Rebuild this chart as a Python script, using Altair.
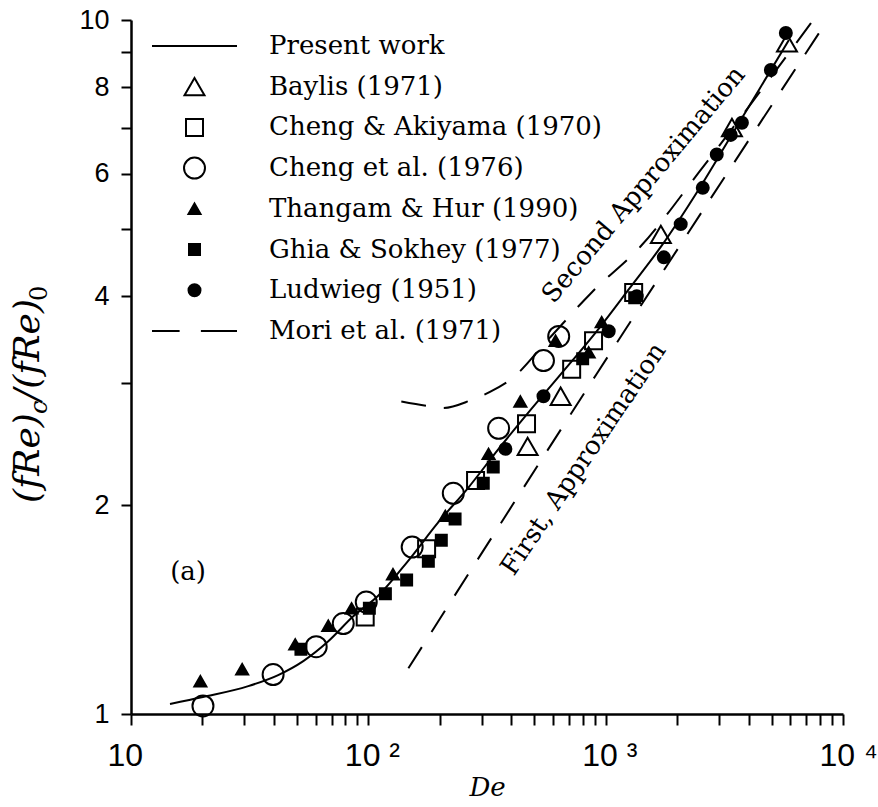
import altair as alt
import pandas as pd

# ---------------- data ----------------
series_order = ["Present work", "Baylis (1971)", "Cheng & Akiyama (1970)", "Cheng et al. (1976)",
                "Thangam & Hur (1990)", "Ghia & Sokhey (1977)", "Ludwieg (1951)", "Mori et al. (1971)"]

present_De = [14.6, 20.1, 31.2, 41.7, 53.2, 67.8, 86.4, 110, 147.5, 197, 264, 354, 473, 633, 934,
              1250, 1722, 2466, 3302, 4422, 5916]
present_f = [1.034, 1.058, 1.097, 1.138, 1.192, 1.273, 1.383, 1.48, 1.664, 1.888, 2.12, 2.41, 2.72,
             3.06, 3.59, 4.09, 4.73, 5.70, 6.72, 7.93, 9.36]

baylis_De = [469, 646, 1708, 3404, 5808]
baylis_f = [2.43, 2.87, 4.91, 7.0, 9.27]

akiyama_De = [97, 176, 283, 464, 719, 889, 1312]
akiyama_f = [1.38, 1.73, 2.17, 2.62, 3.14, 3.45, 4.05]

cheng_De = [20.1, 39.7, 60.3, 78.4, 98, 153, 228, 354, 547, 634]
cheng_f = [1.027, 1.14, 1.25, 1.35, 1.45, 1.74, 2.08, 2.58, 3.23, 3.5]

thangam_De = [19.6, 29.4, 49.2, 67.8, 85, 127, 211, 321, 437, 615, 848, 962]
thangam_f = [1.115, 1.16, 1.26, 1.34, 1.42, 1.59, 1.93, 2.37, 2.82, 3.45, 3.32, 3.67]

ghia_De = [52, 101, 118, 145, 179, 203, 232, 305, 336, 800, 1325]
ghia_f = [1.24, 1.42, 1.49, 1.56, 1.66, 1.78, 1.91, 2.15, 2.27, 3.25, 3.98]

ludwieg_De = [378, 547, 1030, 1352, 1758, 2071, 2565, 2938, 3366, 3750, 4966, 5743]
ludwieg_f = [2.41, 2.87, 3.56, 4.0, 4.55, 5.08, 5.73, 6.40, 6.83, 7.11, 8.47, 9.58]

mori1_De = [147.5, 916, 8072]
mori1_f = [1.164, 3.09, 9.67]

mori2_De = [137.7, 175.8, 207, 269, 343.6, 401, 575, 873, 1405, 2469, 4212, 7328]
mori2_f = [2.82, 2.78, 2.76, 2.83, 2.94, 3.04, 3.47, 4.05, 4.72, 6.03, 7.67, 9.90]

x_tick_values = [10, 20, 30, 40, 50, 60, 70, 80, 90, 100, 200, 300, 400, 500, 600, 700, 800, 900,
                 1000, 2000, 3000, 4000, 5000, 6000, 7000, 8000, 9000, 10000]
y_tick_values = [1, 2, 3, 4, 5, 6, 7, 8, 9, 10]

annot_text = ["Second Approximation", "First, Approximation", "(a)"]
annot_De = [1445, 807, 17.4]
annot_f = [5.79, 2.33, 1.60]
annot_angle = [310, 304, 0]

# ---------------- tables ----------------
pts = pd.concat([
    pd.DataFrame({"De": baylis_De, "f": baylis_f, "series": series_order[1]}),
    pd.DataFrame({"De": akiyama_De, "f": akiyama_f, "series": series_order[2]}),
    pd.DataFrame({"De": cheng_De, "f": cheng_f, "series": series_order[3]}),
    pd.DataFrame({"De": thangam_De, "f": thangam_f, "series": series_order[4]}),
    pd.DataFrame({"De": ghia_De, "f": ghia_f, "series": series_order[5]}),
    pd.DataFrame({"De": ludwieg_De, "f": ludwieg_f, "series": series_order[6]}),
], ignore_index=True)
present = pd.DataFrame({"De": present_De, "f": present_f})
mori = pd.concat([
    pd.DataFrame({"De": mori1_De, "f": mori1_f, "curve": "first"}),
    pd.DataFrame({"De": mori2_De, "f": mori2_f, "curve": "second"}),
], ignore_index=True)
annots = pd.DataFrame({"De": annot_De, "f": annot_f, "text": annot_text, "angle": annot_angle})

# ---------------- symbols (paths scaled by a constant symbol size) ----------------
SYM = 7225  # sqrt/2 = 42.5 px per path unit
shape_range = [
    "M-1,0H1",
    "M0,-0.204L0.235,0.204L-0.235,0.204Z",
    "M-0.2,-0.2H0.2V0.2H-0.2Z",
    "M0.247,0A0.247,0.247,0,1,1,-0.247,0A0.247,0.247,0,1,1,0.247,0Z",
    "M0,-0.122L0.141,0.122L-0.141,0.122Z",
    "M-0.129,-0.129H0.129V0.129H-0.129Z",
    "M0.141,0A0.141,0.141,0,1,1,-0.141,0A0.141,0.141,0,1,1,0.141,0Z",
    "M-1,0H-0.35M0.15,0H1",
]
fill_range = ["transparent", "transparent", "transparent", "transparent", "black", "black", "black", "transparent"]
stroke_range = ["black"] * 8

SERIF = "DejaVu Serif"
SANS = "Liberation Sans"

legend = alt.Legend(
    orient="none", legendX=20, legendY=12, padding=0,
    clipHeight=28, rowPadding=12.7, symbolSize=SYM, symbolStrokeWidth=2,
    symbolStrokeColor="black", symbolOpacity=1, labelFont=SERIF, labelFontSize=26,
    labelColor="black", labelLimit=600, labelOffset=31, title=None,
)

xscale = alt.Scale(type="log", domain=[10, 10000], nice=False)
yscale = alt.Scale(type="log", domain=[1, 10], nice=False)

xaxis = alt.Axis(
    values=x_tick_values,
    labelExpr="datum.value == 10 ? '10' : datum.value == 100 ? '10 ²' : datum.value == 1000 ? '10 ³' : datum.value == 10000 ? '10 ⁴' : ''",
    labelFont=SANS, labelFontSize=32, labelAlign="left", labelOffset=-24, labelBaseline="top",
    labelPadding=15, labelOverlap=False, labelFlush=False, labelBound=False, labelColor="black",
    tickSize=11, tickWidth=2, tickColor="black", domainColor="black", domainWidth=2.5, grid=False,
    title="De", titleFont=SERIF, titleFontStyle="italic", titleFontWeight="normal",
    titleFontSize=26, titleColor="black", titlePadding=3,
)
yaxis = alt.Axis(
    values=y_tick_values,
    labelExpr="indexof([1, 2, 4, 6, 8, 10], datum.value) >= 0 ? datum.label : ''",
    labelFont=SANS, labelFontSize=27, labelPadding=12, labelOverlap=False, labelFlush=False,
    labelBound=False, labelColor="black",
    tickSize=10, tickWidth=2, tickColor="black", domainColor="black", domainWidth=2.5, grid=False,
    title=None,
)

X = alt.X("De:Q", scale=xscale, axis=xaxis)
Y = alt.Y("f:Q", scale=yscale, axis=yaxis)

points = alt.Chart(pts).mark_point(
    filled=True, size=SYM, strokeWidth=2, opacity=1
).encode(
    x=X, y=Y,
    shape=alt.Shape("series:N", scale=alt.Scale(domain=series_order, range=shape_range), legend=legend),
    fill=alt.Fill("series:N", scale=alt.Scale(domain=series_order, range=fill_range), legend=legend),
    stroke=alt.Stroke("series:N", scale=alt.Scale(domain=series_order, range=stroke_range), legend=legend),
)

present_line = alt.Chart(present).mark_line(
    color="black", strokeWidth=2, interpolate="monotone"
).encode(x=X, y=Y)

mori_lines = alt.Chart(mori).mark_line(
    color="black", strokeWidth=2, strokeDash=[25, 18], interpolate="monotone"
).encode(x=X, y=Y, detail="curve:N")

annot_layer = alt.Chart(annots).mark_text(
    font=SERIF, fontSize=26, color="black", align="center", baseline="middle"
).encode(x=X, y=Y, text="text:N", angle=alt.Angle("angle:Q", scale=None))

# y-axis title pieces: (fRe)_c/(fRe)_0
yt_main = 36
yt_sub = 24
t1 = alt.Chart(pd.DataFrame({"t": ["(fRe)"]})).mark_text(
    font=SERIF, fontSize=yt_main, fontStyle="italic", angle=270, align="left", baseline="alphabetic", color="black"
).encode(text="t:N", x=alt.value(-92), y=alt.value(483))
t2 = alt.Chart(pd.DataFrame({"t": ["c"]})).mark_text(
    font=SERIF, fontSize=yt_sub, fontStyle="italic", angle=270, align="left", baseline="alphabetic", color="black"
).encode(text="t:N", x=alt.value(-84), y=alt.value(394))
t3 = alt.Chart(pd.DataFrame({"t": ["/(fRe)"]})).mark_text(
    font=SERIF, fontSize=yt_main, fontStyle="italic", angle=270, align="left", baseline="alphabetic", color="black"
).encode(text="t:N", x=alt.value(-92), y=alt.value(381))
t4 = alt.Chart(pd.DataFrame({"t": ["0"]})).mark_text(
    font=SERIF, fontSize=yt_sub, angle=270, align="left", baseline="alphabetic", color="black"
).encode(text="t:N", x=alt.value(-84), y=alt.value(281))

chart = alt.layer(
    mori_lines, present_line, points, annot_layer, t1, t2, t3, t4
).properties(
    width=712, height=694,
    padding={"left": 131, "top": 20, "right": 35, "bottom": 93},
    autosize=alt.AutoSizeParams(type="none"),
    background="white",
).configure_view(stroke=None)

chart.save("out.html", embed_options={"renderer": "svg", "actions": False})
